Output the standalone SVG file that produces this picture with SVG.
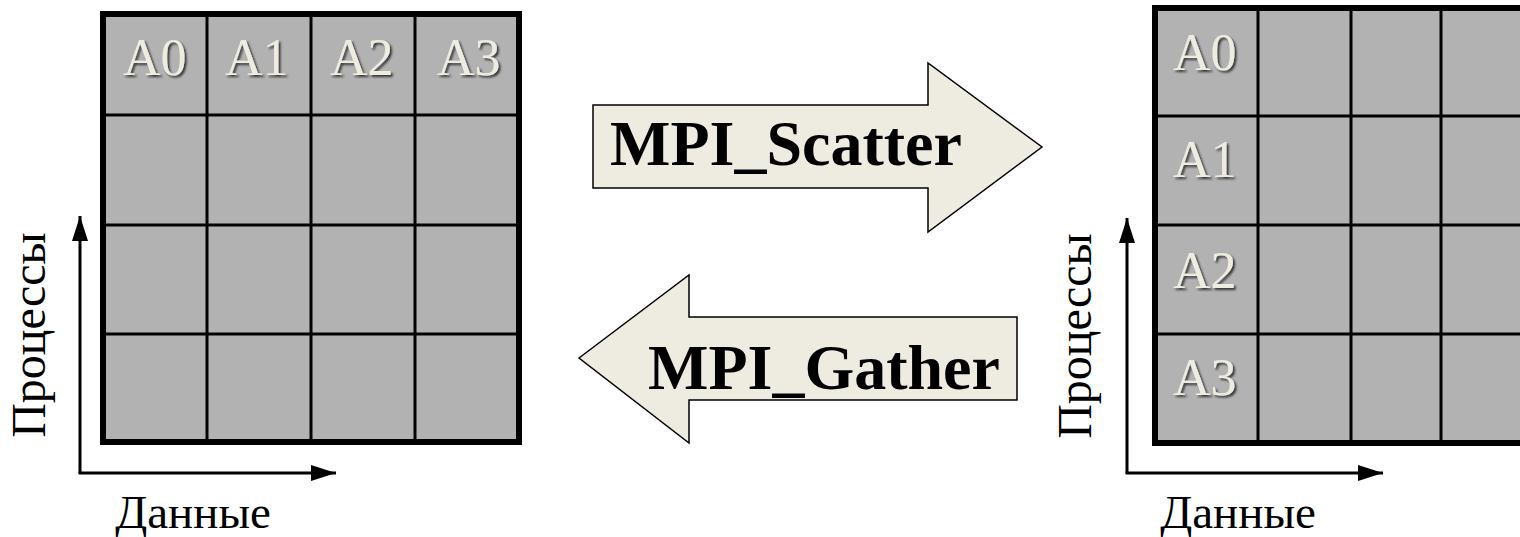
<svg xmlns="http://www.w3.org/2000/svg" width="1520" height="537" viewBox="0 0 1520 537">
<style>
.grid{fill:#b2b2b2;stroke:#000;stroke-width:6}
.gl{stroke:#000;stroke-width:3;fill:none}
.cell{font-size:52px;fill:#eeece1;filter:url(#sh)}
.axis{font-size:47px;fill:#000}
.axv{font-size:48px;fill:#000}
.ax{stroke:#000;stroke-width:3;fill:none}
.big{fill:#eeebe0;stroke:#000;stroke-width:1.5}
.lbl{font-size:64px;font-weight:bold;fill:#000}
</style>
<defs>
<filter id="sh" x="-20%" y="-20%" width="140%" height="140%">
<feDropShadow dx="2" dy="2" stdDeviation="1.2" flood-color="#222" flood-opacity="0.85"/>
</filter>
<marker id="ah" viewBox="0 0 25 16" refX="25" refY="8" markerWidth="25" markerHeight="16" markerUnits="userSpaceOnUse" orient="auto">
<path d="M0,0 L25,8 L0,16 Z" fill="#000"/>
</marker>
</defs>

<g font-family="Liberation Serif, Times New Roman, serif">
<g id="grid-left">
<rect class="grid" x="103" y="14" width="416" height="428"/>
<path class="gl" d="M207,14V442M311,14V442M415,14V442M103,115H519M103,225H519M103,334H519"/>
<text class="cell" x="123" y="75">A0</text>
<text class="cell" x="225" y="75">A1</text>
<text class="cell" x="330" y="75">A2</text>
<text class="cell" x="437" y="75">A3</text>
</g>

<g id="grid-right">
<rect class="grid" x="1155" y="8" width="380" height="435"/>
<path class="gl" d="M1258,8V443M1351,8V443M1441,8V443M1155,116H1530M1155,225H1530M1155,334H1530"/>
<text class="cell" x="1173" y="70">A0</text>
<text class="cell" x="1173" y="177">A1</text>
<text class="cell" x="1173" y="288">A2</text>
<text class="cell" x="1173" y="395">A3</text>
</g>

<g id="connectors">
<path class="ax" d="M80,473V216" marker-end="url(#ah)"/>
<path class="ax" d="M78.5,473H336" marker-end="url(#ah)"/>
<path class="ax" d="M1127,473V218" marker-end="url(#ah)"/>
<path class="ax" d="M1125.5,473H1383" marker-end="url(#ah)"/>
</g>

<g id="axis-labels-left">
<text class="axv" transform="translate(45,335) rotate(-90)" text-anchor="middle">Процессы</text>
<text class="axis" x="193" y="528" text-anchor="middle">Данные</text>
</g>
<g id="axis-labels-right">
<text class="axv" transform="translate(1091,336) rotate(-90)" text-anchor="middle">Процессы</text>
<text class="axis" x="1238" y="528" text-anchor="middle">Данные</text>
</g>

<g id="scatter">
<polygon class="big" points="593,105 928,105 928,63 1042,147 928,232 928,188 593,188"/>
<text class="lbl" x="610" y="165">MPI_Scatter</text>
</g>

<g id="gather">
<polygon class="big" points="579,358 689,275 689,317 1017,317 1017,400 689,400 689,443"/>
<text class="lbl" x="648" y="389">MPI_Gather</text>
</g>
</g>
</svg>
